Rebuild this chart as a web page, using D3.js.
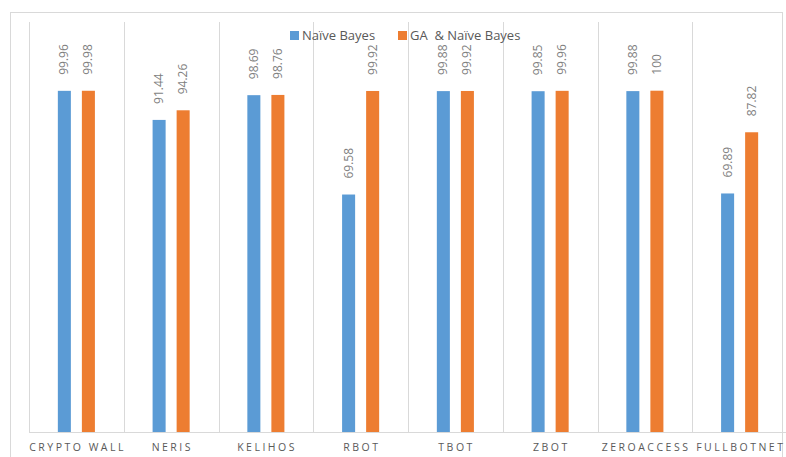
<!DOCTYPE html>
<html>
<head>
<meta charset="utf-8">
<script src="https://cdn.jsdelivr.net/npm/d3@7"></script>
<style>
  body { margin: 0; background: #fff; }
  svg { display: block; font-family: "Open Sans", "Liberation Sans", sans-serif; }
</style>
</head>
<body>
<script>
const categories = ["CRYPTO WALL", "NERIS", "KELIHOS", "RBOT", "TBOT", "ZBOT", "ZEROACCESS", "FULLBOTNET"];
const seriesNames = ["Naïve Bayes", "GA  & Naïve Bayes"];
const naiveBayes = [99.96, 91.44, 98.69, 69.58, 99.88, 99.85, 99.88, 69.89];
const gaNaiveBayes = [99.98, 94.26, 98.76, 99.92, 99.92, 99.96, 100, 87.82];
const labels = [
  ["99.96", "91.44", "98.69", "69.58", "99.88", "99.85", "99.88", "69.89"],
  ["99.98", "94.26", "98.76", "99.92", "99.92", "99.96", "100", "87.82"]
];
const colors = ["#5b9bd5", "#ed7d31"];

function init() {
    var w = 786;
    var h = 457;

    var svg = d3.select("body").append("svg")
        .attr("width", w)
        .attr("height", h);

    // outer frame of the chart area
    svg.append("rect")
        .attr("x", 10.5).attr("y", 12.5)
        .attr("width", 772).attr("height", 460)
        .attr("fill", "none")
        .attr("stroke", "#d9d9d9");

    var x0 = d3.scaleBand()
        .domain(categories)
        .range([29, 787]);

    var x1 = d3.scaleBand()
        .domain(d3.range(2))
        .range([0, x0.bandwidth()])
        .paddingInner(0.458)
        .paddingOuter(1.2);

    var y = d3.scaleLinear()
        .domain([0, 100])
        .range([432, 90.7]);

    // vertical separators
    var seps = categories.map(c => x0(c)).concat([x0.range()[1]]);
    svg.selectAll("line.sep")
        .data(seps)
        .enter().append("line")
        .attr("class", "sep")
        .attr("x1", d => Math.round(d) + 0.5)
        .attr("x2", d => Math.round(d) + 0.5)
        .attr("y1", 22)
        .attr("y2", 432)
        .attr("stroke", "#d9d9d9");

    var data = categories.map(function(c, i) {
        return [naiveBayes[i], gaNaiveBayes[i]];
    });

    var groups = svg.selectAll("g.cat")
        .data(data)
        .enter().append("g")
        .attr("class", "cat")
        .attr("transform", (d, i) => "translate(" + x0(categories[i]) + ",0)");

    groups.selectAll("rect")
        .data(d => d)
        .enter().append("rect")
        .attr("x", (d, j) => x1(j))
        .attr("y", d => y(d))
        .attr("width", x1.bandwidth())
        .attr("height", d => y(0) - y(d))
        .attr("fill", (d, j) => colors[j]);

    groups.selectAll("text")
        .data((d, i) => d.map((v, j) => ({ v: v, j: j, t: labels[j][i] })))
        .enter().append("text")
        .attr("transform", d => "translate(" + (x1(d.j) + x1.bandwidth() / 2 + 4) + "," + (y(d.v) - 16) + ") rotate(-90)")
        .attr("font-size", 12)
        .attr("fill", "#7f7f7f")
        .text(d => d.t);

    // baseline
    svg.append("line")
        .attr("x1", 29).attr("x2", 787)
        .attr("y1", 432.5).attr("y2", 432.5)
        .attr("stroke", "#d9d9d9");

    var xAxis = svg.append("g")
        .attr("transform", "translate(0,432)")
        .call(d3.axisBottom(x0).tickSize(0).tickPadding(12));
    xAxis.select(".domain").remove();
    xAxis.selectAll("text")
        .attr("font-size", 10.5)
        .attr("font-family", "Open Sans, Liberation Sans, sans-serif")
        .attr("fill", "#595959")
        .attr("dx", "1.2px")
        .style("letter-spacing", "2.5px");

    // legend
    var legX = [290, 398];
    var legend = svg.selectAll("g.leg")
        .data(seriesNames)
        .enter().append("g")
        .attr("class", "leg")
        .attr("transform", (d, i) => "translate(" + legX[i] + ",30)");
    legend.append("rect")
        .attr("width", 9).attr("height", 9)
        .attr("y", 1)
        .attr("fill", (d, i) => colors[i]);
    legend.append("text")
        .attr("x", 12)
        .attr("y", 10)
        .attr("font-size", 13)
        .attr("fill", "#595959")
        .style("white-space", "pre")
        .attr("xml:space", "preserve")
        .text(d => d);
}
window.onload = init;
</script>
</body>
</html>
